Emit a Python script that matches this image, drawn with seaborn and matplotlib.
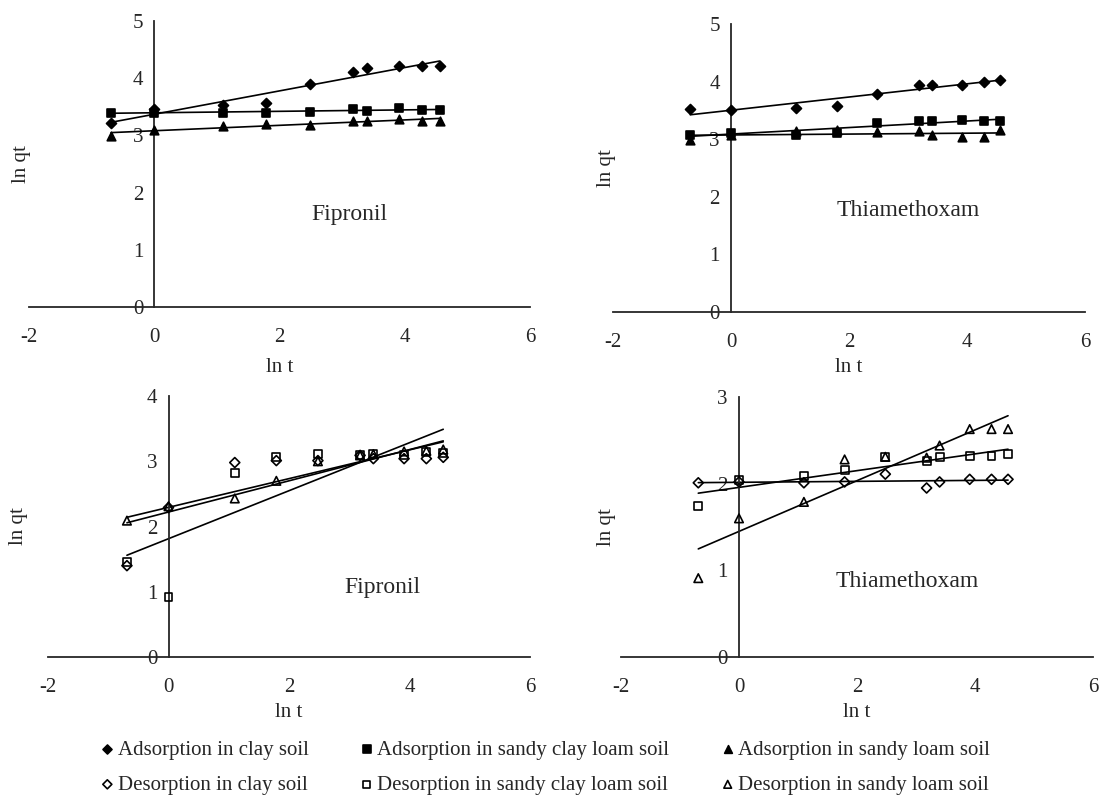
import numpy as np
import pandas as pd
import seaborn as sns
import matplotlib.pyplot as plt

# ln t (h) -- same sampling times for every series
ln_t = [-0.69, 0.0, 1.10, 1.79, 2.48, 3.18, 3.40, 3.91, 4.28, 4.56]

# Fipronil, adsorption
fip_ads_clay = [3.21, 3.47, 3.53, 3.57, 3.90, 4.11, 4.17, 4.22, 4.21, 4.21]
fip_ads_scl = [3.40, 3.40, 3.40, 3.40, 3.41, 3.46, 3.42, 3.48, 3.44, 3.45]
fip_ads_sl = [2.99, 3.10, 3.16, 3.20, 3.19, 3.26, 3.25, 3.29, 3.26, 3.25]

# Thiamethoxam, adsorption
thi_ads_clay = [3.52, 3.51, 3.54, 3.57, 3.79, 3.94, 3.94, 3.94, 4.00, 4.03]
thi_ads_scl = [3.08, 3.11, 3.08, 3.11, 3.28, 3.32, 3.31, 3.33, 3.32, 3.31]
thi_ads_sl = [2.98, 3.08, 3.14, 3.16, 3.13, 3.14, 3.07, 3.03, 3.03, 3.16]

# Fipronil, desorption
fip_des_clay = [1.40, 2.29, 2.98, 3.01, 3.01, 3.09, 3.04, 3.04, 3.04, 3.06]
fip_des_scl = [1.46, 0.92, 2.82, 3.07, 3.11, 3.10, 3.11, 3.10, 3.14, 3.13]
fip_des_sl = [2.09, 2.31, 2.43, 2.70, 3.00, 3.09, 3.11, 3.15, 3.16, 3.18]

# Thiamethoxam, desorption
thi_des_clay = [2.01, 2.02, 2.01, 2.02, 2.11, 1.95, 2.02, 2.05, 2.05, 2.05]
thi_des_scl = [1.74, 2.04, 2.09, 2.16, 2.31, 2.26, 2.31, 2.32, 2.32, 2.34]
thi_des_sl = [0.91, 1.60, 1.79, 2.28, 2.31, 2.30, 2.44, 2.63, 2.63, 2.63]

soils = ["clay soil", "sandy clay loam soil", "sandy loam soil"]
markers = ["D", "s", "^"]
sizes = [26, 32, 38]

sns.set_style("white")
plt.rcParams["font.family"] = ["Liberation Serif", "DejaVu Serif"]
plt.rcParams["axes.linewidth"] = 1.3
plt.rcParams["axes.unicode_minus"] = False

fig = plt.figure(figsize=(11, 7.98), dpi=100)
W, H = 1100, 798


def make_ax(left, right, bottom, top):
    return fig.add_axes([left / W, 1 - bottom / H, (right - left) / W, (bottom - top) / H])


panels = [
    # (axes box px, series, filled, ymax, name, text pos, ylabel x, xlabel y)
    ((29, 530, 307, 21), [fip_ads_clay, fip_ads_scl, fip_ads_sl], True, 5, "Fipronil", (3.11, 1.61), -0.014, -0.213),
    ((613, 1085, 312, 24), [thi_ads_clay, thi_ads_scl, thi_ads_sl], True, 5, "Thiamethoxam", (3.0, 1.77), -0.013, -0.194),
    ((48, 530, 657, 396), [fip_des_clay, fip_des_scl, fip_des_sl], False, 4, "Fipronil", (3.55, 1.06), -0.062, -0.211),
    ((621, 1093, 657, 397), [thi_des_clay, thi_des_scl, thi_des_sl], False, 3, "Thiamethoxam", (2.85, 0.87), -0.030, -0.212),
]

handles = {}
for i, (box, series, filled, ymax, name, tpos, ylx, xly) in enumerate(panels):
    ax = make_ax(*box)
    kind = "Adsorption" if filled else "Desorption"
    for soil, vals, m, s in zip(soils, series, markers, sizes):
        df = pd.DataFrame({"ln_t": ln_t, "ln_qt": vals})
        skw = {"s": s, "alpha": 1, "linewidths": 1.2, "zorder": 3}
        if not filled:
            skw["facecolors"] = "none"
            skw["edgecolors"] = "black"
        sns.regplot(data=df, x="ln_t", y="ln_qt", ax=ax, ci=None, color="black",
                    marker=m, scatter_kws=skw, line_kws={"lw": 1.2},
                    label=f"{kind} in {soil}")
    if i in (0, 2):
        h, l = ax.get_legend_handles_labels()
        for hh, ll in zip(h, l):
            handles[ll] = hh

    ax.set_xlim(-2, 6)
    ax.set_ylim(0, ymax)
    ax.set_xticks([-2, 0, 2, 4, 6])
    ax.set_yticks(range(0, ymax + 1))
    ax.spines["left"].set_position(("data", 0))
    ax.spines["bottom"].set_position(("data", 0))
    ax.spines["top"].set_visible(False)
    ax.spines["right"].set_visible(False)
    ax.tick_params(axis="x", direction="out", length=5, width=1.3, pad=10, labelsize=15)
    ax.tick_params(axis="y", direction="out", length=5, width=1.3, pad=3, labelsize=15)
    ax.set_xlabel("ln t", fontsize=15)
    ax.set_ylabel("ln qt", fontsize=15)
    ax.xaxis.set_label_coords(0.5, xly)
    ax.xaxis.label.set_verticalalignment("center")
    ax.yaxis.set_label_coords(ylx, 0.5)
    ax.yaxis.label.set_verticalalignment("center")
    ax.text(tpos[0], tpos[1], name, ha="center", va="center", fontsize=17)
    ax.patch.set_alpha(0)

order = [f"{k} in {s}" for s in soils for k in ("Adsorption", "Desorption")]
leg = fig.legend([handles[o] for o in order], order, ncol=3, loc="upper left",
                 bbox_to_anchor=(99 / W, 1 - 740 / H), frameon=False, fontsize=15,
                 handletextpad=0.1, handlelength=0.8, columnspacing=2.4,
                 labelspacing=0.75, borderpad=0, borderaxespad=0, markerscale=0.9)

fig.savefig("out.png", dpi=100, facecolor="white")
